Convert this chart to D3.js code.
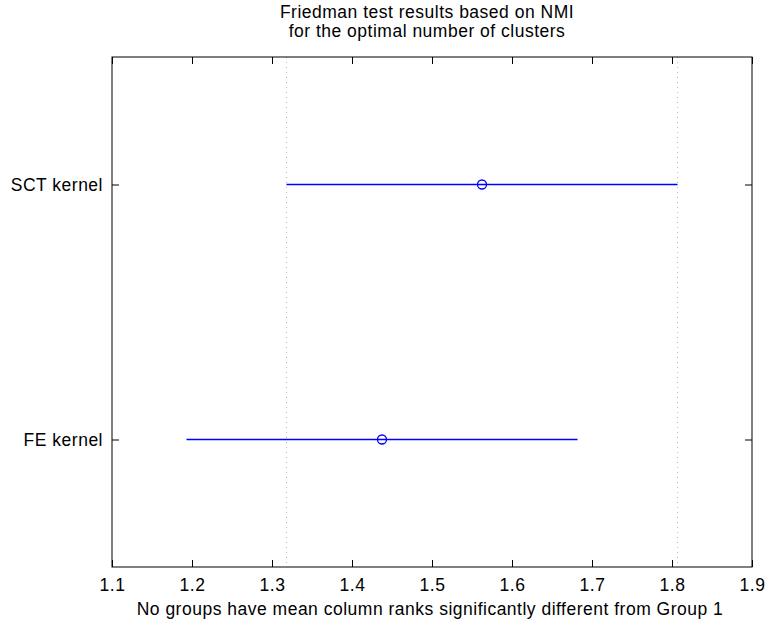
<!DOCTYPE html>
<html><head><meta charset="utf-8">
<script src="https://cdn.jsdelivr.net/npm/d3@7"></script>
<style>body{margin:0;background:#fff}svg{display:block}text{font-family:"Liberation Sans",Arial,sans-serif;fill:#000;letter-spacing:0.5px}</style>
</head><body>
<script>
const groups = ["SCT kernel", "FE kernel"];
const meanRanks = [1.5625, 1.4375];
const lowerCI = [1.3181, 1.1931];
const upperCI = [1.8069, 1.6819];
const xTicks = [1.1, 1.2, 1.3, 1.4, 1.5, 1.6, 1.7, 1.8, 1.9];
const titleLines = ["Friedman test results based on NMI", "for the optimal number of clusters"];
const xLabel = "No groups have mean column ranks significantly different from Group 1";

const W = 766, H = 623;
const m = {left: 112, right: 752, top: 57, bottom: 567};
const svg = d3.select("body").append("svg").attr("width", W).attr("height", H);
const x = d3.scaleLinear().domain([1.1, 1.9]).range([m.left, m.right]);
const y = d3.scaleLinear().domain([0.5, 2.5]).range([m.top, m.bottom]);
const fs = 17.5;

// reference lines for group 1
[lowerCI[0], upperCI[0]].forEach(v => {
  svg.append("line").attr("x1", x(v)).attr("x2", x(v)).attr("y1", m.top).attr("y2", m.bottom)
    .attr("stroke", "#b8b8b8").attr("stroke-width", 1).attr("stroke-dasharray", "1,4");
});

// axes
const tl = 7;
const gB = svg.append("g").attr("transform", `translate(0,${m.bottom})`)
  .call(d3.axisBottom(x).tickValues(xTicks).tickSizeInner(-tl).tickSizeOuter(0).tickPadding(12).tickFormat(d3.format(".1f")));
const gT = svg.append("g").attr("transform", `translate(0,${m.top})`)
  .call(d3.axisTop(x).tickValues(xTicks).tickSizeInner(-tl).tickSizeOuter(0).tickFormat(""));
const gL = svg.append("g").attr("transform", `translate(${m.left},0)`)
  .call(d3.axisLeft(y).tickValues([1, 2]).tickSizeInner(-tl).tickSizeOuter(0).tickPadding(9).tickFormat((d, i) => groups[i]));
const gR = svg.append("g").attr("transform", `translate(${m.right},0)`)
  .call(d3.axisRight(y).tickValues([1, 2]).tickSizeInner(-tl).tickSizeOuter(0).tickFormat(""));
[gB, gT, gL, gR].forEach(g => {
  g.select(".domain").remove();
  g.selectAll(".tick line").attr("stroke", "#000");
  g.selectAll("text").style("font-size", fs + "px").attr("fill", "#000");
});
gB.selectAll(".tick text").attr("dy", "0.71em");
gL.selectAll(".tick text").attr("dy", "0.35em");

svg.append("rect").attr("x", m.left).attr("y", m.top).attr("width", m.right - m.left).attr("height", m.bottom - m.top)
  .attr("fill", "none").attr("stroke", "#000").attr("stroke-width", 1);

// intervals
const gi = groups.map((g, i) => i);
svg.selectAll("line.ci").data(gi).enter().append("line").attr("class", "ci")
  .attr("x1", i => x(lowerCI[i])).attr("x2", i => x(upperCI[i]))
  .attr("y1", i => y(i + 1)).attr("y2", i => y(i + 1))
  .attr("stroke", "#0000ff").attr("stroke-width", 1.6);
svg.selectAll("circle.mr").data(gi).enter().append("circle").attr("class", "mr")
  .attr("cx", i => x(meanRanks[i])).attr("cy", i => y(i + 1)).attr("r", 4.5)
  .attr("fill", "none").attr("stroke", "#0000ff").attr("stroke-width", 1.3);

// title
titleLines.forEach((t, i) => {
  svg.append("text").attr("x", 427).attr("y", 18 + i * 19).attr("text-anchor", "middle")
    .style("font-size", fs + "px").text(t);
});
svg.append("text").attr("x", 430).attr("y", 615).attr("text-anchor", "middle")
  .style("font-size", fs + "px").text(xLabel);
</script>
</body></html>
